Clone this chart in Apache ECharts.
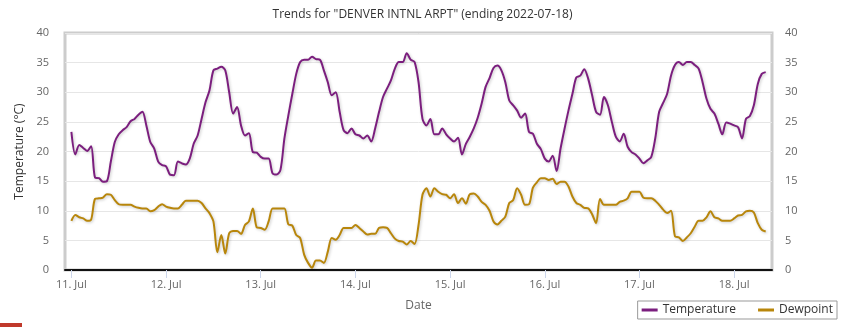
<!DOCTYPE html>
<html>
<head>
<meta charset="utf-8">
<script src="https://cdn.jsdelivr.net/npm/echarts@6/dist/echarts.min.js"></script>
<style>
html,body{margin:0;padding:0;background:#fff;}
#chart{width:845px;height:327px;}
</style>
</head>
<body>
<div id="chart"></div>
<script>
// Hourly observations starting 11 Jul 00:00 (index = hours since start)
const temperature = [
23.3,19.5,21.1,20.6,20.1,20.9,15.6,15.5,14.9,15.0,18.3,21.6,22.9,23.6,24.1,25.1,25.5,26.2,26.7,24.4,21.6,20.5,18.3,17.7,
17.5,16.1,16.0,18.3,18.0,17.8,18.8,21.3,22.7,25.5,28.3,30.3,33.7,34.0,34.3,33.7,30.0,26.4,27.5,24.4,22.7,23.1,19.9,19.8,
19.1,18.8,18.8,16.3,16.1,16.9,22.2,26.1,29.7,33.1,35.1,35.5,35.5,36.0,35.6,35.5,33.7,31.7,29.5,30.0,26.7,23.6,23.1,23.9,
22.9,22.7,22.2,22.7,21.7,23.9,26.7,29.2,30.6,32.0,34.0,35.1,35.1,36.6,35.5,35.1,31.7,25.5,24.4,25.5,22.9,22.9,23.9,22.9,
22.2,21.7,22.3,19.5,21.3,22.5,23.9,25.7,28.1,30.9,32.4,34.1,34.5,33.7,31.7,28.6,27.8,26.9,25.7,26.4,23.3,23.0,21.3,20.4,
18.8,18.3,19.3,16.7,20.5,23.8,26.9,29.7,32.5,32.8,33.9,32.3,29.5,26.7,26.2,29.2,27.8,25.0,22.5,21.7,23.0,20.8,19.9,19.5,
18.8,18.0,18.5,19.1,22.2,26.7,28.2,29.7,32.8,34.6,35.1,34.6,35.1,35.1,34.6,34.0,31.7,28.9,27.2,26.4,24.7,22.9,24.9,24.7,
24.4,24.1,22.2,25.5,26.0,27.8,31.4,33.1,33.4
];
const dewpoint = [
8.3,9.3,8.9,8.7,8.3,8.5,12.0,12.1,12.2,12.8,12.7,11.8,11.1,11.0,11.0,11.0,10.7,10.5,10.4,10.4,9.9,10.1,10.7,11.1,
10.7,10.5,10.4,10.4,11.0,11.7,11.7,11.7,11.7,11.3,10.4,9.6,8.2,3.0,5.9,2.8,6.2,6.6,6.6,6.1,7.6,8.2,10.4,7.2,
7.1,6.8,8.2,10.4,10.4,10.4,10.4,7.7,7.5,5.9,5.4,2.6,1.2,0.4,1.6,1.6,1.2,3.1,5.4,5.1,5.9,7.1,7.1,7.1,
7.6,7.1,6.5,6.0,6.1,6.1,7.1,7.2,7.1,6.2,5.3,4.9,4.8,4.3,4.9,4.4,7.6,12.7,13.8,12.4,13.8,13.2,12.8,12.7,
12.1,12.8,11.3,12.1,11.2,12.8,12.9,12.4,11.5,11.0,10.0,8.2,7.7,8.3,9.0,11.3,11.8,13.8,12.7,11.0,11.1,13.9,14.8,15.5,
15.5,15.2,15.4,14.5,14.9,14.9,14.1,12.4,11.3,11.0,10.5,10.4,9.4,7.9,12.0,11.0,11.0,11.0,11.0,11.5,11.7,12.1,13.2,13.2,
13.2,12.2,12.1,12.1,11.7,11.0,10.2,9.6,10.0,5.7,5.5,4.9,5.5,6.2,7.3,8.3,8.3,8.9,9.9,8.9,8.7,8.3,8.3,8.3,
8.7,9.2,9.3,9.9,10.0,9.7,7.9,6.8,6.5
];
const dayTicks = [0,24,48,72,96,120,144,168];
const dayLabels = ['11. Jul','12. Jul','13. Jul','14. Jul','15. Jul','16. Jul','17. Jul','18. Jul'];
const yTicks = [0,5,10,15,20,25,30,35,40];

const font = "'Open Sans', 'DejaVu Sans', sans-serif";
const chart = echarts.init(document.getElementById('chart'), null, {renderer:'canvas'});
const lineShadow = {shadowColor:'rgba(0,0,0,0.22)', shadowBlur:3, shadowOffsetX:1, shadowOffsetY:1};
chart.setOption({
  animation:false,
  textStyle:{fontFamily:font},
  title:{
    text:'Trends for "DENVER INTNL ARPT" (ending 2022-07-18)',
    left:'center', top:4,
    textStyle:{fontFamily:font, fontSize:12, fontWeight:'normal', color:'#333'}
  },
  grid:{left:65, right:73, top:33, bottom:57, show:true, borderColor:'#cccccc', borderWidth:3, backgroundColor:'#fff'},
  legend:{
    right:8, top:301,
    data:['Temperature','Dewpoint'],
    icon:'rect', itemWidth:16, itemHeight:3, itemGap:22,
    borderColor:'#999', borderWidth:1, borderRadius:0, padding:[3,4,3,4],
    textStyle:{fontFamily:font, fontSize:12, color:'#333'}
  },
  xAxis:{
    type:'value', min:-1.62, max:177.6,
    name:'Date', nameLocation:'middle', nameGap:30,
    nameTextStyle:{fontFamily:font, fontSize:12, color:'#666'},
    axisLine:{show:true, onZero:false, lineStyle:{color:'#111', width:2}},
    axisTick:{show:true, customValues:dayTicks, length:8, lineStyle:{color:'#ccd6eb', width:1}},
    axisLabel:{customValues:dayTicks, margin:9, fontFamily:font, fontSize:11, color:'#666',
      formatter:function(v){ const i = dayTicks.indexOf(Math.round(v)); return i>=0 ? dayLabels[i] : ''; }},
    splitLine:{show:false}
  },
  yAxis:[
    {type:'value', min:0, max:40, interval:5, position:'left',
     name:'Temperature (°C)', nameLocation:'middle', nameGap:38, nameRotate:90,
     nameTextStyle:{fontFamily:font, fontSize:12, color:'#333'},
     axisLine:{show:false}, axisTick:{show:false},
     axisLabel:{margin:16, fontFamily:font, fontSize:11, color:'#666'},
     splitLine:{show:true, lineStyle:{color:'#e6e6e6', width:1}}},
    {type:'value', min:0, max:40, interval:5, position:'right',
     axisLine:{show:false}, axisTick:{show:false},
     axisLabel:{margin:13, fontFamily:font, fontSize:11, color:'#666'},
     splitLine:{show:false}}
  ],
  series:[
    {name:'Temperature', type:'line', smooth:0.3, showSymbol:false, yAxisIndex:0,
     color:'#7b1e7e',
     lineStyle:Object.assign({width:2, color:'#7b1e7e'}, lineShadow),
     data:temperature.map((v,i)=>[i,v])},
    {name:'Dewpoint', type:'line', smooth:0.3, showSymbol:false, yAxisIndex:0,
     color:'#b8860b',
     lineStyle:Object.assign({width:2, color:'#b8860b'}, lineShadow),
     data:dewpoint.map((v,i)=>[i,v])}
  ],
  graphic:[
    {type:'rect', left:0, top:323, shape:{width:22, height:4}, style:{fill:'#c0392b'}, silent:true}
  ]
});
</script>
</body>
</html>
